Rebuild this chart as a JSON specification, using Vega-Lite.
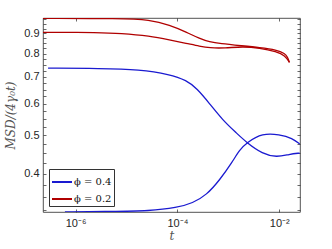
{
  "$schema": "https://vega.github.io/schema/vega-lite/v6.json",
  "autosize": "none",
  "width": 257,
  "height": 194,
  "padding": {"left": 43, "top": 18, "right": 32, "bottom": 37},
  "background": "white",
  "config": {
    "view": {"stroke": "#262626", "strokeWidth": 0.8},
    "axis": {"domain": false, "grid": false, "tickColor": "#262626", "tickWidth": 0.7, "labelColor": "#262626", "labelFont": "Liberation Sans", "labelFontSize": 11, "titleColor": "#555555"}
  },
  "data": {"values": [
    {"phi": "ϕ = 0.2", "curve": "a", "t": 2.29e-7, "v": 0.981},
    {"phi": "ϕ = 0.2", "curve": "a", "t": 7.41e-6, "v": 0.980},
    {"phi": "ϕ = 0.2", "curve": "a", "t": 2.88e-5, "v": 0.973},
    {"phi": "ϕ = 0.2", "curve": "a", "t": 7.08e-5, "v": 0.944},
    {"phi": "ϕ = 0.2", "curve": "a", "t": 1.51e-4, "v": 0.906},
    {"phi": "ϕ = 0.2", "curve": "a", "t": 2.75e-4, "v": 0.872},
    {"phi": "ϕ = 0.2", "curve": "a", "t": 4.27e-4, "v": 0.856},
    {"phi": "ϕ = 0.2", "curve": "a", "t": 6.76e-4, "v": 0.848},
    {"phi": "ϕ = 0.2", "curve": "a", "t": 1.91e-3, "v": 0.837},
    {"phi": "ϕ = 0.2", "curve": "a", "t": 4.07e-3, "v": 0.829},
    {"phi": "ϕ = 0.2", "curve": "a", "t": 8.91e-3, "v": 0.818},
    {"phi": "ϕ = 0.2", "curve": "a", "t": 1.29e-2, "v": 0.801},
    {"phi": "ϕ = 0.2", "curve": "a", "t": 1.45e-2, "v": 0.785},
    {"phi": "ϕ = 0.2", "curve": "a", "t": 1.58e-2, "v": 0.761},
    {"phi": "ϕ = 0.2", "curve": "b", "t": 2.29e-7, "v": 0.905},
    {"phi": "ϕ = 0.2", "curve": "b", "t": 3.02e-6, "v": 0.904},
    {"phi": "ϕ = 0.2", "curve": "b", "t": 7.41e-6, "v": 0.900},
    {"phi": "ϕ = 0.2", "curve": "b", "t": 2.88e-5, "v": 0.886},
    {"phi": "ϕ = 0.2", "curve": "b", "t": 7.08e-5, "v": 0.866},
    {"phi": "ϕ = 0.2", "curve": "b", "t": 1.51e-4, "v": 0.849},
    {"phi": "ϕ = 0.2", "curve": "b", "t": 2.75e-4, "v": 0.835},
    {"phi": "ϕ = 0.2", "curve": "b", "t": 4.27e-4, "v": 0.827},
    {"phi": "ϕ = 0.2", "curve": "b", "t": 8.51e-4, "v": 0.826},
    {"phi": "ϕ = 0.2", "curve": "b", "t": 1.91e-3, "v": 0.834},
    {"phi": "ϕ = 0.2", "curve": "b", "t": 4.07e-3, "v": 0.827},
    {"phi": "ϕ = 0.2", "curve": "b", "t": 8.91e-3, "v": 0.809},
    {"phi": "ϕ = 0.2", "curve": "b", "t": 1.29e-2, "v": 0.792},
    {"phi": "ϕ = 0.2", "curve": "b", "t": 1.58e-2, "v": 0.761},
    {"phi": "ϕ = 0.4", "curve": "c", "t": 2.88e-7, "v": 0.736},
    {"phi": "ϕ = 0.4", "curve": "c", "t": 3.02e-6, "v": 0.735},
    {"phi": "ϕ = 0.4", "curve": "c", "t": 1.82e-5, "v": 0.730},
    {"phi": "ϕ = 0.4", "curve": "c", "t": 7.08e-5, "v": 0.710},
    {"phi": "ϕ = 0.4", "curve": "c", "t": 1.51e-4, "v": 0.686},
    {"phi": "ϕ = 0.4", "curve": "c", "t": 2.40e-4, "v": 0.655},
    {"phi": "ϕ = 0.4", "curve": "c", "t": 4.27e-4, "v": 0.600},
    {"phi": "ϕ = 0.4", "curve": "c", "t": 7.76e-4, "v": 0.545},
    {"phi": "ϕ = 0.4", "curve": "c", "t": 1.45e-3, "v": 0.506},
    {"phi": "ϕ = 0.4", "curve": "c", "t": 2.29e-3, "v": 0.479},
    {"phi": "ϕ = 0.4", "curve": "c", "t": 4.68e-3, "v": 0.449},
    {"phi": "ϕ = 0.4", "curve": "c", "t": 8.91e-3, "v": 0.440},
    {"phi": "ϕ = 0.4", "curve": "c", "t": 1.58e-2, "v": 0.448},
    {"phi": "ϕ = 0.4", "curve": "c", "t": 2.51e-2, "v": 0.451},
    {"phi": "ϕ = 0.4", "curve": "d", "t": 6.17e-7, "v": 0.321},
    {"phi": "ϕ = 0.4", "curve": "d", "t": 4.68e-6, "v": 0.322},
    {"phi": "ϕ = 0.4", "curve": "d", "t": 2.88e-5, "v": 0.323},
    {"phi": "ϕ = 0.4", "curve": "d", "t": 9.77e-5, "v": 0.329},
    {"phi": "ϕ = 0.4", "curve": "d", "t": 2.00e-4, "v": 0.338},
    {"phi": "ϕ = 0.4", "curve": "d", "t": 3.72e-4, "v": 0.354},
    {"phi": "ϕ = 0.4", "curve": "d", "t": 6.76e-4, "v": 0.386},
    {"phi": "ϕ = 0.4", "curve": "d", "t": 1.20e-3, "v": 0.429},
    {"phi": "ϕ = 0.4", "curve": "d", "t": 1.66e-3, "v": 0.459},
    {"phi": "ϕ = 0.4", "curve": "d", "t": 2.29e-3, "v": 0.479},
    {"phi": "ϕ = 0.4", "curve": "d", "t": 4.68e-3, "v": 0.506},
    {"phi": "ϕ = 0.4", "curve": "d", "t": 1.0e-2, "v": 0.502},
    {"phi": "ϕ = 0.4", "curve": "d", "t": 1.82e-2, "v": 0.491},
    {"phi": "ϕ = 0.4", "curve": "d", "t": 2.51e-2, "v": 0.475}
  ]},
  "resolve": {"axis": {"x": "independent", "y": "independent"}},
  "layer": [
    {
      "mark": {"type": "line", "strokeWidth": 1.3, "interpolate": "basis", "clip": true},
      "encoding": {
        "x": {"field": "t", "type": "quantitative",
          "scale": {"type": "log", "domain": [2.29e-7, 2.55e-2], "nice": false},
          "axis": {"orient": "bottom", "values": [1e-6, 1e-4, 1e-2], "tickSize": -3, "labelPadding": 8,
            "labelExpr": "datum.value < 2e-6 ? '10⁻⁶' : datum.value < 2e-4 ? '10⁻⁴' : '10⁻²'",
            "title": "t", "titleFont": "DejaVu Serif", "titleFontStyle": "italic", "titleFontWeight": "normal", "titleFontSize": 12, "titlePadding": 2}},
        "y": {"field": "v", "type": "quantitative",
          "scale": {"type": "log", "domain": [0.321, 0.983], "nice": false},
          "axis": {"orient": "left", "values": [0.325, 0.35, 0.375, 0.4, 0.425, 0.45, 0.475, 0.5, 0.525, 0.55, 0.575, 0.6, 0.625, 0.65, 0.675, 0.7, 0.725, 0.75, 0.775, 0.8, 0.825, 0.85, 0.875, 0.9, 0.925, 0.95, 0.975],
            "tickSize": -3, "labelPadding": 7,
            "labelExpr": "abs(datum.value*10 - round(datum.value*10)) < 0.01 ? format(datum.value, '.1f') : ''",
            "title": "MSD/(4γ₀t)", "titleFont": "DejaVu Serif", "titleFontStyle": "italic", "titleFontWeight": "normal", "titleFontSize": 12, "titlePadding": 6}},
        "color": {"field": "phi", "type": "nominal",
          "scale": {"domain": ["ϕ = 0.4", "ϕ = 0.2"], "range": ["#1a1ad0", "#b00000"]},
          "legend": {"title": null, "orient": "bottom-left", "offset": 6, "symbolType": "stroke", "symbolSize": 400, "symbolStrokeWidth": 2,
            "labelFont": "DejaVu Serif", "labelFontSize": 10, "labelColor": "#111111", "strokeColor": "#333333", "fillColor": "white", "padding": 2, "rowPadding": 1, "labelOffset": 1}},
        "detail": {"field": "curve", "type": "nominal"}
      }
    },
    {
      "mark": {"type": "line", "opacity": 0},
      "encoding": {
        "x": {"field": "t", "type": "quantitative",
          "axis": {"orient": "top", "values": [1e-6, 1e-4, 1e-2], "tickSize": -3, "labels": false, "title": null}},
        "y": {"field": "v", "type": "quantitative",
          "axis": {"orient": "right", "values": [0.325, 0.35, 0.375, 0.4, 0.425, 0.45, 0.475, 0.5, 0.525, 0.55, 0.575, 0.6, 0.625, 0.65, 0.675, 0.7, 0.725, 0.75, 0.775, 0.8, 0.825, 0.85, 0.875, 0.9, 0.925, 0.95, 0.975], "tickSize": -3, "labels": false, "title": null}},
        "detail": {"field": "curve", "type": "nominal"}
      }
    }
  ]
}
